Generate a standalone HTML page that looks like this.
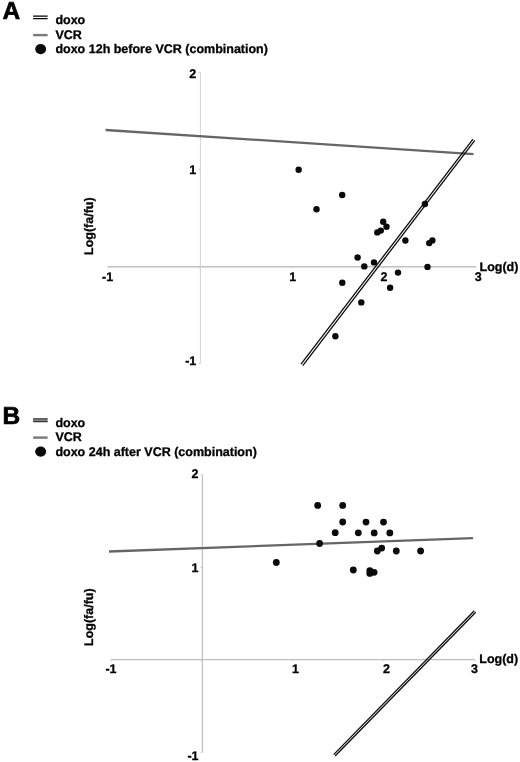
<!DOCTYPE html>
<html><head><meta charset="utf-8"><title>Figure</title>
<style>
html,body{margin:0;padding:0;background:#fff;}
body{width:520px;height:762px;overflow:hidden;}
svg{display:block;}
text{font-family:"Liberation Sans",Arial,sans-serif;font-weight:bold;fill:#000;stroke:#000;stroke-linejoin:round;text-rendering:geometricPrecision;}
.t{font-size:12.5px;stroke-width:.3;}
.p{font-size:24.5px;stroke-width:.7;}
.r{font-size:125px;stroke-width:3;}
.ax{stroke:#c0c0c0;stroke-width:1.4;fill:none;}
.va{stroke:#d8d8d8;stroke-width:1.1;fill:none;}
.vb{stroke:#c2c2c2;stroke-width:1.3;fill:none;}
.tk{stroke:#c4c4c4;stroke-width:1;fill:none;}
.g{stroke:#666;stroke-width:2.3;fill:none;}
.d1{stroke:#111;stroke-width:3.6;fill:none;}
.d2{stroke:#fff;stroke-width:1.1;fill:none;}
.d3{stroke:#aaa;stroke-width:.9;fill:none;}
.dl{stroke:#0c0c0c;stroke-width:1.3;fill:none;}
circle{fill:#0a0a0a;}
</style></head><body>
<svg width="520" height="762" viewBox="0 0 520 762">
<rect width="520" height="762" fill="#fff"/>

<text class="p" x="2.5" y="19">A</text>
<path d="M33.1 16.1H47.6M33.1 18.55H47.6" stroke="#000" stroke-width="1.35" fill="none"/>
<line x1="33.1" y1="35.1" x2="47.6" y2="35.1" stroke="#7a7a7a" stroke-width="2.4"/>
<ellipse cx="40.65" cy="49.1" rx="5.5" ry="5.05" fill="#0a0a0a"/>
<text class="t" x="55.4" y="24">doxo</text>
<text class="t" x="55.4" y="38.5">VCR</text>
<text class="t" x="55.4" y="53">doxo 12h before VCR (combination)</text>
<path class="ax" d="M108 266.8H475.7"/><path class="va" d="M200.45 72.3V363.3"/>
<path class="tk" d="M108.0 266.8v1.6M199.9 266.8v1.6M291.9 266.8v1.6M383.8 266.8v1.6M475.7 266.8v1.6M200.45 72.3h-1.8M200.45 169.3h-1.8M200.45 266.3h-1.8M200.45 363.3h-1.8"/>
<text class="t" x="196.3" y="78.1" text-anchor="end">2</text>
<text class="t" x="196.3" y="173.5" text-anchor="end">1</text>
<text class="t" x="196.3" y="365" text-anchor="end">-1</text>
<text class="t" x="107.6" y="280.8" text-anchor="middle">-1</text>
<text class="t" x="292.8" y="280.8" text-anchor="middle">1</text>
<text class="t" x="384" y="280.8" text-anchor="middle">2</text>
<text class="t" x="478.2" y="281.2" text-anchor="middle">3</text>
<text class="t" x="479.5" y="270.5" text-anchor="start">Log(d)</text>
<line class="g" x1="105.6" y1="130.0" x2="473.5" y2="154.1"/>
<line class="dl" x1="300.99" y1="364.20" x2="472.99" y2="139.05"/>
<line class="dl" x1="302.81" y1="365.60" x2="474.81" y2="140.45"/>
<circle cx="298.65" cy="169.8" r="3.2"/>
<circle cx="342.2" cy="195.0" r="3.2"/>
<circle cx="316.5" cy="209.2" r="3.2"/>
<circle cx="424.9" cy="204.0" r="3.2"/>
<circle cx="383.2" cy="221.8" r="3.2"/>
<circle cx="386.5" cy="226.8" r="3.2"/>
<circle cx="380.8" cy="230.6" r="3.2"/>
<circle cx="377.3" cy="232.4" r="3.2"/>
<circle cx="405.4" cy="240.5" r="3.2"/>
<circle cx="432.4" cy="240.4" r="3.2"/>
<circle cx="429.2" cy="243.1" r="3.2"/>
<circle cx="357.6" cy="257.5" r="3.2"/>
<circle cx="374.0" cy="262.4" r="3.2"/>
<circle cx="364.3" cy="266.4" r="3.2"/>
<circle cx="427.5" cy="266.9" r="3.2"/>
<circle cx="398.0" cy="272.6" r="3.2"/>
<circle cx="390.1" cy="287.8" r="3.2"/>
<circle cx="342.3" cy="282.7" r="3.2"/>
<circle cx="361.3" cy="302.4" r="3.2"/>
<circle cx="335.4" cy="336.3" r="3.2"/>
<text class="r" transform="translate(93.2,255) rotate(-90) scale(.1)">Log(fa/fu)</text>
<text class="p" x="2.5" y="423.8">B</text>
<path d="M33.1 420.15H47.6" stroke="#9c9c9c" stroke-width="3" fill="none"/><path d="M33.1 418.8H47.6M33.1 421.5H47.6" stroke="#383838" stroke-width="1.3" fill="none"/>
<line x1="33.1" y1="437.6" x2="47.6" y2="437.6" stroke="#7a7a7a" stroke-width="2.4"/>
<ellipse cx="40.65" cy="451.6" rx="5.5" ry="5.05" fill="#0a0a0a"/>
<text class="t" x="55.4" y="426.5">doxo</text>
<text class="t" x="55.4" y="441.0">VCR</text>
<text class="t" x="55.4" y="455.5">doxo 24h after VCR (combination)</text>
<path class="ax" d="M111.2 659.65H474.6"/><path class="vb" d="M202.4 474.9V752.3"/>
<path class="tk" d="M111.2 659.65v1.6M202.1 659.65v1.6M292.9 659.65v1.6M383.8 659.65v1.6M474.6 659.65v1.6M202.4 474.9h-1.8M202.4 567.4h-1.8M202.4 659.8h-1.8M202.4 752.3h-1.8"/>
<text class="t" x="198.5" y="478" text-anchor="end">2</text>
<text class="t" x="198.5" y="571.9" text-anchor="end">1</text>
<text class="t" x="198.5" y="759.7" text-anchor="end">-1</text>
<text class="t" x="111" y="673.2" text-anchor="middle">-1</text>
<text class="t" x="295.6" y="672.9" text-anchor="middle">1</text>
<text class="t" x="386.5" y="672.9" text-anchor="middle">2</text>
<text class="t" x="474.6" y="672.8" text-anchor="middle">3</text>
<text class="t" x="479.3" y="663" text-anchor="start">Log(d)</text>
<line class="g" x1="109" y1="551.5" x2="473.1" y2="538.1"/>
<line class="dl" x1="333.68" y1="754.60" x2="474.28" y2="610.80"/>
<line class="dl" x1="335.12" y1="756.00" x2="475.72" y2="612.20"/>
<circle cx="317.7" cy="505.4" r="3.4"/>
<circle cx="342.7" cy="505.4" r="3.4"/>
<circle cx="342.7" cy="522.0" r="3.4"/>
<circle cx="366.0" cy="522.1" r="3.4"/>
<circle cx="383.5" cy="522.1" r="3.4"/>
<circle cx="335.2" cy="532.7" r="3.4"/>
<circle cx="358.3" cy="532.8" r="3.4"/>
<circle cx="374.2" cy="532.9" r="3.4"/>
<circle cx="389.8" cy="532.9" r="3.4"/>
<circle cx="319.6" cy="543.5" r="3.4"/>
<circle cx="381.7" cy="548.1" r="3.4"/>
<circle cx="377.3" cy="551.0" r="3.4"/>
<circle cx="396.3" cy="551.0" r="3.4"/>
<circle cx="420.6" cy="551.0" r="3.4"/>
<circle cx="276.3" cy="562.5" r="3.4"/>
<circle cx="353.3" cy="570.0" r="3.4"/>
<circle cx="369.8" cy="570.6" r="3.4"/>
<circle cx="374.1" cy="572.3" r="3.4"/>
<circle cx="369.8" cy="573.4" r="3.4"/>
<text class="r" transform="translate(93.2,646) rotate(-90) scale(.1)">Log(fa/fu)</text>
</svg></body></html>
